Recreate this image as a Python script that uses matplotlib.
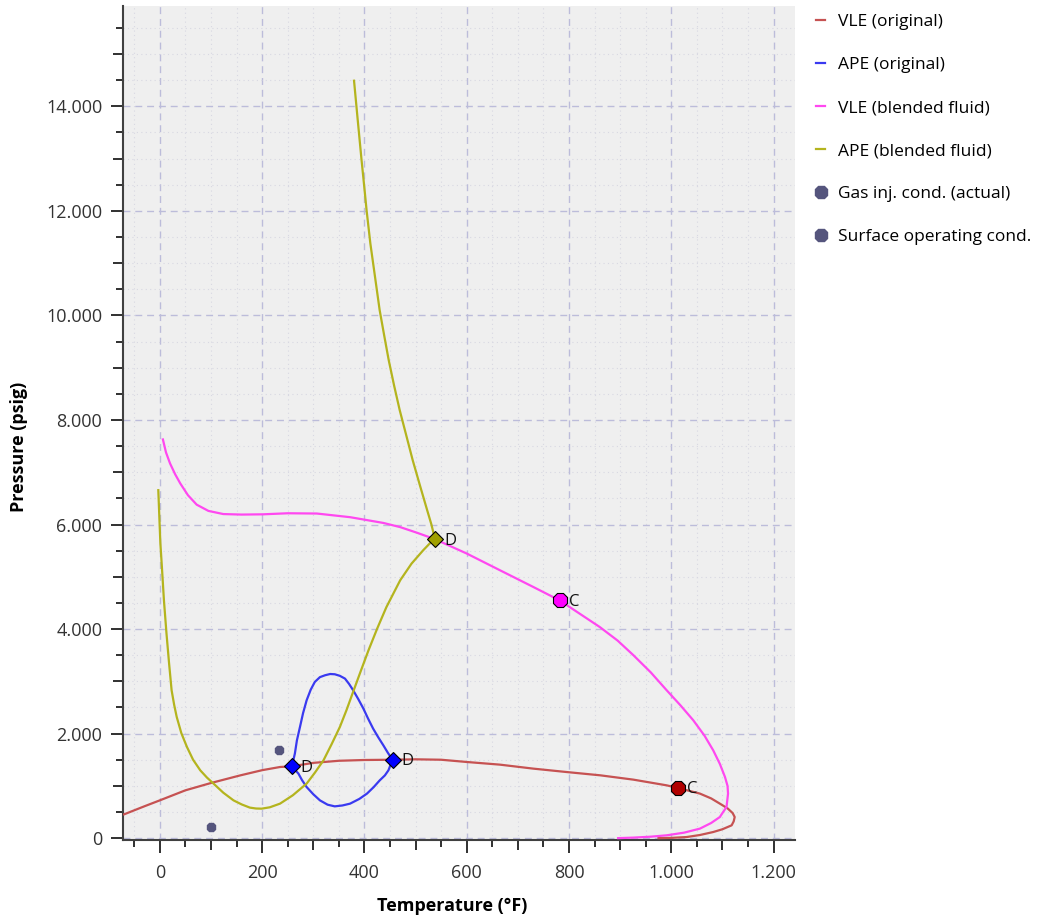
"""Phase envelope plot: VLE and APE curves for original and blended fluid."""
import numpy as np
from matplotlib import pyplot as plt
from matplotlib.ticker import MultipleLocator, FuncFormatter

plt.rcParams['font.family'] = ['Open Sans', 'DejaVu Sans']

# VLE envelope, original fluid (temperature in F, pressure in psig)
vle_orig_t = [-70, -30, 0, 50, 100, 157, 200, 235, 258, 300, 350, 400, 455, 500, 550, 600, 665, 730,
              795, 861, 926, 991, 1013, 1035, 1056, 1078, 1095, 1110, 1120, 1124, 1122, 1118, 1100, 1082,
              1056, 1030, 1000, 975]
vle_orig_p = [455, 610, 723, 915, 1055, 1200, 1300, 1361, 1374, 1440, 1480, 1495, 1500, 1508, 1500, 1457, 1406, 1330,
              1265, 1202, 1119, 1010, 960, 905, 852, 760, 660, 570, 480, 404, 320, 245, 170, 117,
              60, 21, 5, 0]

# APE loop, original fluid
ape_orig_t = [258, 261, 264, 268, 274, 280, 287, 295, 303, 313, 323, 333, 342, 352, 362, 370, 378, 388,
              398, 407, 417, 427, 437, 446, 455,
              451, 447, 440, 430, 418, 405, 390, 372, 357, 342, 328, 313, 300, 287, 278, 271, 264, 258]
ape_orig_p = [1374, 1490, 1617, 1870, 2127, 2390, 2637, 2840, 2988, 3080, 3116, 3140, 3135, 3105, 3052, 2950, 2829, 2660,
              2478, 2290, 2096, 1930, 1776, 1630, 1500,
              1400, 1298, 1200, 1106, 975, 852, 750, 660, 625, 608, 640, 723, 840, 978, 1110, 1234, 1310, 1374]

# VLE envelope, blended fluid
vle_blend_t = [6, 12, 20, 30, 40, 55, 72, 95, 124, 160, 202, 250, 307, 372, 437, 470, 502, 538, 600, 665,
               730, 782, 820, 860, 895, 926, 960, 991, 1018, 1043, 1065, 1082, 1095, 1105, 1110, 1111,
               1108, 1100, 1095, 1078, 1056, 1025, 991, 960, 926, 896]
vle_blend_p = [7627, 7380, 7167, 6960, 6785, 6560, 6380, 6260, 6200, 6190, 6195, 6215, 6210, 6140, 6030, 5950, 5845, 5719, 5445, 5125,
               4806, 4547, 4300, 4040, 3780, 3499, 3170, 2829, 2540, 2255, 1960, 1680, 1420, 1170, 1000, 852,
               595, 480, 404, 290, 182, 105, 54, 28, 10, 0]

# APE curve, blended fluid
ape_blend_t = [-3, -1, 1, 4, 8, 13, 18, 23, 28, 33, 42, 53, 65, 79, 92, 105, 124, 144, 160, 176, 188, 199,
               215, 235, 260, 287, 303, 320, 336, 352, 365, 378, 393, 408, 425, 443, 470, 492, 515, 527, 538,
               531, 522.7, 508.5, 494.4, 481.7, 469, 458, 447.5, 438.6, 429.8, 420.7, 411.6, 404.2, 399.3, 394.4, 387, 379.7]
ape_blend_p = [6657, 6146, 5650, 5189, 4550, 3914, 3350, 2829, 2550, 2318, 2010, 1744, 1500, 1298, 1160, 1043, 870, 723, 645, 584, 567, 564,
               590, 660, 820, 1043, 1250, 1489, 1800, 2127, 2450, 2800, 3200, 3594, 4010, 4420, 4934, 5250, 5508, 5630, 5719,
               6000, 6274, 6750, 7231, 7710, 8188, 8660, 9145, 9620, 10101, 10740, 11378, 12015, 12500, 12972, 13730, 14490]

# special points: dew (D) and critical (C)
dew_orig_t, dew_orig_p = [258, 455], [1374, 1500]
crit_orig_t, crit_orig_p = 1013, 960
dew_blend_t, dew_blend_p = 538, 5719
crit_blend_t, crit_blend_p = 782, 4547

# operating conditions
gas_inj_t, gas_inj_p = 233, 1694
surface_t, surface_p = 101, 212

c_vle_orig = '#c65252'
c_ape_orig = '#3a3af0'
c_vle_blend = '#ff48f0'
c_ape_blend = '#b4b41e'
c_point = '#55557d'

fig = plt.figure(figsize=(10.39, 9.18), dpi=100)
ax = fig.add_axes([0.1184, 0.085, 0.6468, 0.9085])
ax.set_facecolor('#efefef')

ax.plot(vle_orig_t, vle_orig_p, color=c_vle_orig, lw=1.6, label='VLE (original)', zorder=3)
ax.plot(ape_orig_t, ape_orig_p, color=c_ape_orig, lw=1.6, label='APE (original)', zorder=3)
ax.plot(vle_blend_t, vle_blend_p, color=c_vle_blend, lw=1.6, label='VLE (blended fluid)', zorder=3)
ax.plot(ape_blend_t, ape_blend_p, color=c_ape_blend, lw=1.6, label='APE (blended fluid)', zorder=3)
ax.plot(gas_inj_t, gas_inj_p, ls='none', marker='8', ms=6.5, color=c_point, label='Gas inj. cond. (actual)', zorder=4)
ax.plot(surface_t, surface_p, ls='none', marker='8', ms=6.5, color=c_point, label='Surface operating cond.', zorder=4)

ax.plot(dew_orig_t, dew_orig_p, ls='none', marker='D', ms=8, mfc='#0000ff', mec='black', mew=0.8, zorder=5)
ax.plot(dew_blend_t, dew_blend_p, ls='none', marker='D', ms=8, mfc='#a0a000', mec='black', mew=0.8, zorder=5)
ax.plot(crit_orig_t, crit_orig_p, ls='none', marker='8', ms=11, mfc='#b00000', mec='black', mew=0.8, zorder=5)
ax.plot(crit_blend_t, crit_blend_p, ls='none', marker='8', ms=11, mfc='#ff00ff', mec='black', mew=0.8, zorder=5)
for t, p, s in [(dew_orig_t[0], dew_orig_p[0], 'D'), (dew_orig_t[1], dew_orig_p[1], 'D'),
                (dew_blend_t, dew_blend_p, 'D'), (crit_orig_t, crit_orig_p, 'C'), (crit_blend_t, crit_blend_p, 'C')]:
    ax.annotate(s, (t, p), xytext=(6.5, -1), textcoords='offset points', va='center', ha='left',
                fontsize=12, color='#111111', zorder=6)

ax.set_xlim(-72, 1242)
ax.set_ylim(-35, 15920)
ax.xaxis.set_major_locator(MultipleLocator(200))
ax.xaxis.set_minor_locator(MultipleLocator(50))
ax.yaxis.set_major_locator(MultipleLocator(2000))
ax.yaxis.set_minor_locator(MultipleLocator(500))
ax.xaxis.set_major_formatter(FuncFormatter(lambda v, _: f"{v:,.0f}".replace(',', '.')))
ax.yaxis.set_major_formatter(FuncFormatter(lambda v, _: f"{v:,.0f}".replace(',', '.')))

ax.grid(which='major', ls=(0, (5, 3.5)), color='#bcbcda', lw=1.0)
ax.grid(which='minor', ls=(0, (1, 3)), color='#d8d8e2', lw=0.8)
ax.set_axisbelow(True)

for side in ['top', 'right']:
    ax.spines[side].set_visible(False)
for side in ['left', 'bottom']:
    ax.spines[side].set_color('#404040')
    ax.spines[side].set_linewidth(1.5)

ax.tick_params(which='major', length=9, width=1.4, color='#303030', labelsize=13, labelcolor='#333333')
ax.tick_params(which='minor', length=5, width=1.4, color='#303030')
ax.tick_params(axis='y', which='major', pad=6)
ax.tick_params(axis='x', which='major', pad=8)

# intermediate ticks between labelled ones are drawn a little longer
fig.canvas.draw()
for tick, loc in zip(ax.yaxis.get_minor_ticks(), ax.yaxis.get_minorticklocs()):
    if abs(loc % 1000) < 1e-6:
        tick.tick1line.set_markersize(7.5)
for tick, loc in zip(ax.xaxis.get_minor_ticks(), ax.xaxis.get_minorticklocs()):
    if abs(loc % 100) < 1e-6:
        tick.tick1line.set_markersize(7.5)

ax.set_xlabel('Temperature (°F)', fontsize=13, fontweight='bold')
ax.set_ylabel('Pressure (psig)', fontsize=13, fontweight='bold')
ax.xaxis.set_label_coords(0.49, -0.068)
ax.yaxis.set_label_coords(-0.141, 0.471)

ax.legend(loc='upper left', bbox_to_anchor=(0.779, 0.992), bbox_transform=fig.transFigure,
          frameon=False, fontsize=12.5, handlelength=0.5, handletextpad=0.75,
          labelspacing=1.54, markerscale=1.5, borderaxespad=0)

fig.savefig('out.png', dpi=100)
